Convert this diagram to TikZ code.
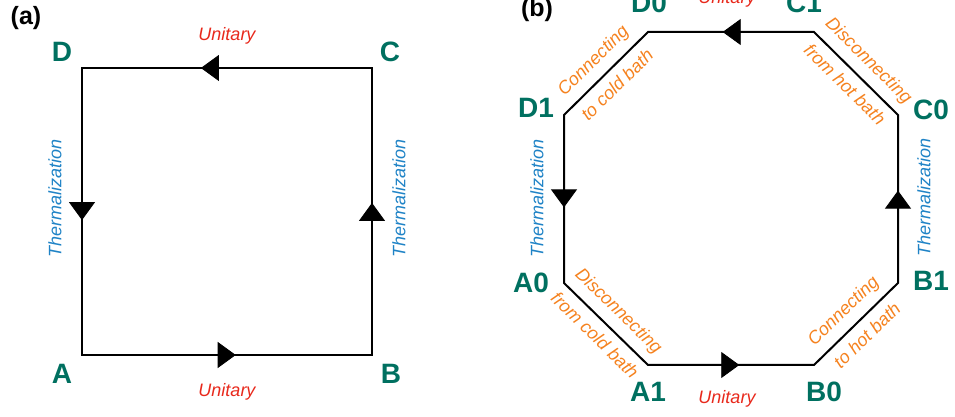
\documentclass[tikz,border=0pt]{standalone}
\usepackage{fontspec}
\setmainfont{Liberation Sans}
\usetikzlibrary{positioning, arrows.meta, decorations.markings}

\definecolor{labelteal}{RGB}{0,112,96}
\definecolor{unired}{RGB}{232,41,28}
\definecolor{thermblue}{RGB}{31,131,198}
\definecolor{bathorange}{RGB}{245,130,31}

\begin{document}
\begin{tikzpicture}[
        x=0.5pt, y=-0.5pt,
        cycleline/.style={line width=1pt, line join=miter},
        flow/.style={postaction={decorate, decoration={markings,
            mark=at position #1 with {\arrow{Triangle[length=9pt, width=13pt]}}}}},
        corner/.style={font=\fontsize{14}{16}\selectfont\bfseries, text=labelteal, inner sep=0pt},
        panel/.style={font=\fontsize{12.5}{15}\selectfont\bfseries, inner sep=0pt},
        unitary/.style={font=\fontsize{9}{11}\selectfont\itshape, text=unired, inner sep=0pt},
        therm/.style={font=\fontsize{9}{11}\selectfont\itshape, text=thermblue, rotate=90, inner sep=0pt},
        bath/.style={font=\fontsize{9}{11}\selectfont\itshape, text=bathorange, sloped, midway, inner sep=4pt},
    ]
    \useasboundingbox (0,0) rectangle (955,417);

    % (a) four-stroke cycle
    \coordinate (A) at (82,355);
    \coordinate (B) at (372,355);
    \coordinate (C) at (372,68);
    \coordinate (D) at (82,68);

    \draw[cycleline] (A) -- (B) -- (C) -- (D) -- cycle;
    \path[flow=0.53] (A) -- (B);
    \path[flow=0.53] (B) -- (C);
    \path[flow=0.59] (C) -- (D);
    \path[flow=0.53] (D) -- (A);

    \node[panel] (label-a) at (26,18) {(a)};
    \node[corner] (name-A) at (62,374) {A};
    \node[corner] (name-B) at (391,374) {B};
    \node[corner] (name-C) at (390,52) {C};
    \node[corner] (name-D) at (62,52) {D};

    \node[unitary] (uni-AB) at (227,392) {Unitary};
    \node[unitary] (uni-CD) at (227,36) {Unitary};
    \node[therm] (th-DA) at (55,198) {Thermalization};
    \node[therm] (th-BC) at (399,198) {Thermalization};

    % (b) eight-stroke cycle
    \coordinate (D1) at (564,115);
    \coordinate (D0) at (648,32);
    \coordinate (C1) at (814,32);
    \coordinate (C0) at (898,115);
    \coordinate (B1) at (898,283);
    \coordinate (B0) at (814,365);
    \coordinate (A1) at (648,365);
    \coordinate (A0) at (564,283);

    \draw[cycleline] (D1)
        -- node[bath, above] {Connecting} node[bath, below] {to cold bath} (D0)
        -- (C1)
        -- node[bath, above] {Disconnecting} node[bath, below] {from hot bath} (C0)
        -- (B1)
        -- node[bath, above] {Connecting} node[bath, below] {to hot bath} (B0)
        -- (A1)
        -- node[bath, above] {Disconnecting} node[bath, below] {from cold bath} (A0)
        -- cycle;
    \path[flow=0.55] (A1) -- (B0);
    \path[flow=0.55] (B1) -- (C0);
    \path[flow=0.55] (C1) -- (D0);
    \path[flow=0.55] (D1) -- (A0);

    \node[panel] (label-b) at (537,10) {(b)};
    \node[corner] (name-A0) at (531,283) {A0};
    \node[corner] (name-A1) at (648,392) {A1};
    \node[corner] (name-B0) at (824,392) {B0};
    \node[corner] (name-B1) at (931,281) {B1};
    \node[corner] (name-C0) at (931,110) {C0};
    \node[corner] (name-C1) at (804,3) {C1};
    \node[corner] (name-D0) at (649,3) {D0};
    \node[corner] (name-D1) at (536,108) {D1};

    \node[unitary] (uni-A1B0) at (727,399) {Unitary};
    \node[unitary] (uni-C1D0) at (727,-1) {Unitary};
    \node[therm] (th-D1A0) at (537,198) {Thermalization};
    \node[therm] (th-B1C0) at (924,197) {Thermalization};
\end{tikzpicture}
\end{document}
